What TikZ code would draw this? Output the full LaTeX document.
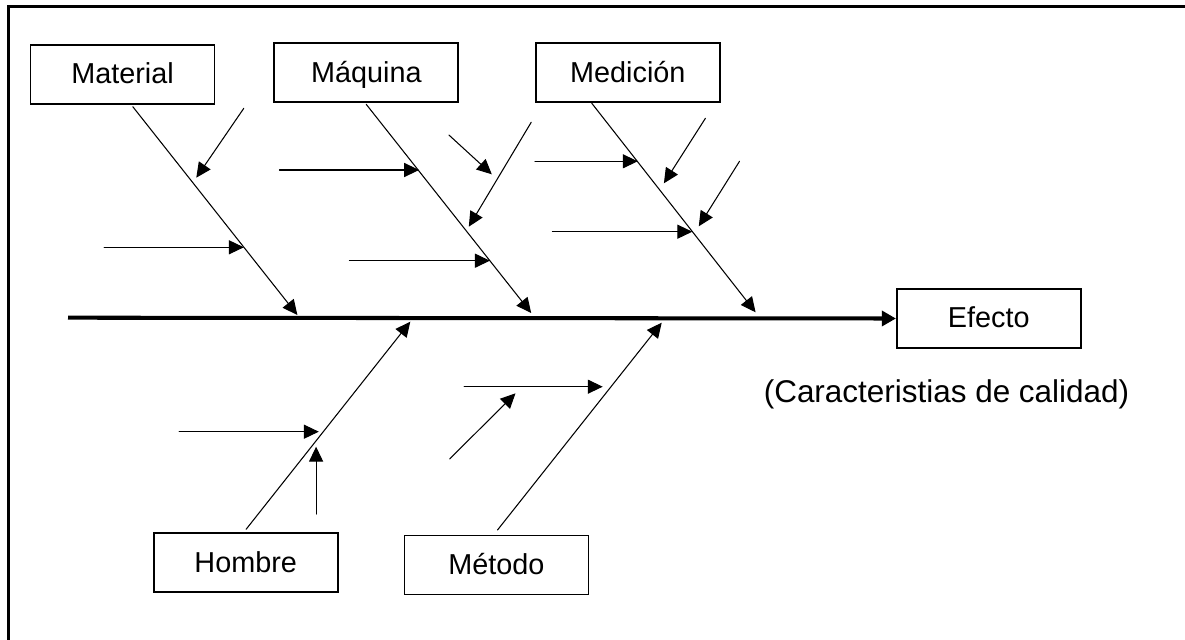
\documentclass[tikz,border=0pt]{standalone}
\usepackage{fontspec}
\setmainfont{Liberation Sans}
\usepackage{tkz-euclide}
\usetikzlibrary{arrows.meta}

\tikzset{
  causa/.style={draw=black, line width=1pt, minimum width=3.68cm,
    minimum height=1.18cm, inner sep=0pt, text height=12pt, text depth=1.5pt,
    font=\fontsize{16.4}{19}\selectfont},
  flecha/.style={line width=0.6pt, -{Triangle[length=8.5pt,width=8pt]}},
  espina/.style={line width=2.3pt, -{Triangle[length=8pt,width=8.5pt]}}
}

\begin{document}
\begin{tikzpicture}
        \useasboundingbox (0,0) rectangle (23.7,12.78);
        \draw[line width=1.7pt] (0.168,-0.5) -- (0.168,12.646) -- (24,12.646);
        % cajas
        \node[causa] (material) at (2.45,11.29) {Material};
        \node[causa] (maquina) at (7.326,11.324) {Máquina};
        \node[causa] (medicion) at (12.556,11.324) {Medición};
        \node[causa] (efecto) at (19.776,6.41) {Efecto};
        \node[causa] (hombre) at (4.914,1.524) {Hombre};
        \node[causa] (metodo) at (9.928,1.48) {Método};
        \node[font=\fontsize{17.9}{21}\selectfont] (calidad) at (18.93,4.9)
          {(Caracteristias de calidad)};
        % espina central
        \tkzDefPoint(1.36,6.426){E}
        \draw[espina] (E) -- (efecto.west);
        % Material
        \tkzDefPoint(2.656,10.646){Ma}  \tkzDefPoint(5.948,6.48){Mb}
        \tkzDefPoint(4.876,10.614){Mc}  \tkzDefPoint(3.926,9.226){Md}
        \tkzDefPoint(2.082,7.834){Me}   \tkzDefPoint(4.876,7.834){Mf}
        \tkzDrawSegments[flecha](Ma,Mb Mc,Md Me,Mf)
        % Maquina
        \tkzDefPoint(7.324,10.694){Qa}  \tkzDefPoint(10.624,6.52){Qb}
        \tkzDefPoint(5.588,9.38){Qc}    \tkzDefPoint(8.382,9.38){Qd}
        \tkzDefPoint(6.988,7.566){Qe}   \tkzDefPoint(9.798,7.566){Qf}
        \tkzDefPoint(8.978,10.08){Qg}   \tkzDefPoint(9.836,9.294){Qh}
        \tkzDefPoint(10.624,10.334){Qi} \tkzDefPoint(9.376,8.246){Qj}
        \tkzDrawSegments[flecha](Qa,Qb Qc,Qd Qe,Qf Qg,Qh Qi,Qj)
        % Medicion
        \tkzDefPoint(11.836,10.714){Da} \tkzDefPoint(15.112,6.534){Db}
        \tkzDefPoint(10.7,9.554){Dc}    \tkzDefPoint(12.754,9.554){Dd}
        \tkzDefPoint(11.048,8.146){De}  \tkzDefPoint(13.846,8.146){Df}
        \tkzDefPoint(14.108,10.414){Dg} \tkzDefPoint(13.278,9.114){Dh}
        \tkzDefPoint(14.79,9.554){Di}   \tkzDefPoint(13.976,8.254){Dj}
        \tkzDrawSegments[flecha](Da,Db Dc,Dd De,Df Dg,Dh Di,Dj)
        % Hombre
        \tkzDefPoint(4.922,2.194){Ha}   \tkzDefPoint(8.206,6.346){Hb}
        \tkzDefPoint(3.582,4.146){Hc}   \tkzDefPoint(6.376,4.146){Hd}
        \tkzDefPoint(6.322,2.5){He}     \tkzDefPoint(6.322,3.846){Hf}
        \tkzDrawSegments[flecha](Ha,Hb Hc,Hd He,Hf)
        % Metodo
        \tkzDefPoint(9.95,2.18){Ta}     \tkzDefPoint(13.234,6.326){Tb}
        \tkzDefPoint(9.284,5.046){Tc}   \tkzDefPoint(12.054,5.046){Td}
        \tkzDefPoint(8.994,3.6){Te}     \tkzDefPoint(10.31,4.914){Tf}
        \tkzDrawSegments[flecha](Ta,Tb Tc,Td Te,Tf)
    \end{tikzpicture}
\end{document}
